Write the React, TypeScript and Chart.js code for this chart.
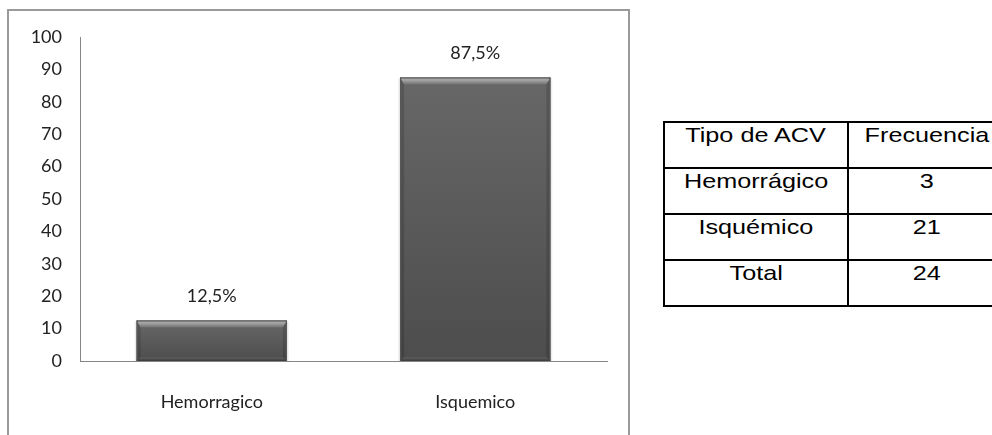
import React, { useEffect, useRef } from "react";
import { Chart, registerables } from "chart.js";

Chart.register(...registerables);

const categories = ["Hemorragico", "Isquemico"];
const percentValues = [12.5, 87.5];
const valueLabels = ["12,5%", "87,5%"];
const yTicks = [0, 10, 20, 30, 40, 50, 60, 70, 80, 90, 100];

const tableHeader = ["Tipo de ACV", "Frecuencia"];
const tableTypes = ["Hemorrágico", "Isquémico", "Total"];
const tableFreq = ["3", "21", "24"];

const FONT = "Lato, 'Open Sans', sans-serif";

const bevelPlugin = {
  id: "bevel",
  afterDatasetsDraw(chart: any) {
    const ctx = chart.ctx;
    const meta = chart.getDatasetMeta(0);
    meta.data.forEach((bar: any, i: number) => {
      const { x, y, base, width } = bar.getProps(["x", "y", "base", "width"], true);
      const l = x - width / 2;
      const r = x + width / 2;
      const t = y;
      const b = base;
      const d = 7;
      const s = 4;
      ctx.save();
      // soft shadow
      ctx.fillStyle = "rgba(0,0,0,0.06)";
      ctx.fillRect(l - 2, t + 1, width + 4, b - t - 1);
      ctx.fillStyle = "rgba(0,0,0,0.06)";
      ctx.fillRect(l - 1, t, width + 2, b - t);
      // main body gradient
      let g = ctx.createLinearGradient(0, t, 0, b);
      g.addColorStop(0, "#676767");
      g.addColorStop(1, "#4d4d4d");
      ctx.fillStyle = g;
      ctx.fillRect(l, t, width, b - t);
      // left
      ctx.fillStyle = "rgba(0,0,0,0.14)";
      ctx.beginPath();
      ctx.moveTo(l, t);
      ctx.lineTo(l + s, t + d);
      ctx.lineTo(l + s, b - s);
      ctx.lineTo(l, b);
      ctx.closePath();
      ctx.fill();
      // right
      ctx.beginPath();
      ctx.moveTo(r, t);
      ctx.lineTo(r - s, t + d);
      ctx.lineTo(r - s, b - s);
      ctx.lineTo(r, b);
      ctx.closePath();
      ctx.fill();
      // bottom
      ctx.fillStyle = "rgba(255,255,255,0.05)";
      ctx.beginPath();
      ctx.moveTo(l, b);
      ctx.lineTo(l + s, b - s);
      ctx.lineTo(r - s, b - s);
      ctx.lineTo(r, b);
      ctx.closePath();
      ctx.fill();
      ctx.fillStyle = "#3f3f3f";
      ctx.fillRect(l, b - 1.5, width, 1.5);
      // top
      g = ctx.createLinearGradient(0, t, 0, t + d);
      g.addColorStop(0, "#9e9e9e");
      g.addColorStop(0.35, "#a6a6a6");
      g.addColorStop(1, "#707070");
      ctx.fillStyle = g;
      ctx.beginPath();
      ctx.moveTo(l, t);
      ctx.lineTo(r, t);
      ctx.lineTo(r - s, t + d);
      ctx.lineTo(l + s, t + d);
      ctx.closePath();
      ctx.fill();
      ctx.fillStyle = "#5a5a5a";
      ctx.fillRect(l, t, width, 1);
      ctx.fillRect(l, t, 1, b - t);
      ctx.fillRect(r - 1, t, 1, b - t);
      // value label
      ctx.fillStyle = "#222";
      ctx.font = `18px ${FONT}`;
      ctx.textAlign = "center";
      ctx.textBaseline = "middle";
      ctx.fillText(valueLabels[i], x, t - 24);
      ctx.restore();
    });
  },
};

function BarChart() {
  const ref = useRef<HTMLCanvasElement>(null);
  useEffect(() => {
    if (!ref.current) return;
    const chart = new Chart(ref.current, {
      type: "bar",
      data: {
        labels: categories,
        datasets: [
          {
            data: percentValues,
            backgroundColor: "#5d5d5d",
            borderWidth: 0,
            categoryPercentage: 1,
            barPercentage: 0.57,
          },
        ],
      },
      options: {
        animation: false,
        responsive: false,
        devicePixelRatio: 1,
        layout: { padding: { top: 37, right: 33, left: 0, bottom: 0 } },
        plugins: { legend: { display: false }, tooltip: { enabled: false } },
        scales: {
          x: {
            grid: { display: false, drawTicks: false },
            border: { display: true, color: "#868686", width: 1 },
            ticks: { color: "#222", font: { family: FONT, size: 18 }, padding: 30 },
            afterFit: (s: any) => {
              s.height = 74;
            },
          },
          y: {
            min: 0,
            max: 100,
            grid: { display: false, drawTicks: false },
            border: { display: true, color: "#868686", width: 1 },
            afterBuildTicks: (s: any) => {
              s.ticks = yTicks.map((v) => ({ value: v }));
            },
            ticks: { color: "#222", font: { family: FONT, size: 18 }, padding: 18 },
            afterFit: (s: any) => {
              s.width = 80;
            },
          },
        },
      },
      plugins: [bevelPlugin],
    });
    return () => chart.destroy();
  }, []);
  return (
    <canvas
      ref={ref}
      width={640}
      height={435}
      style={{ position: "absolute", left: 0, top: 0, width: 640, height: 435 }}
    />
  );
}

const rowLines = [122, 168, 214, 260, 306];
const colLines = [664, 848, 1006];

function DataTable() {
  const rows = [tableHeader, ...tableTypes.map((t, i) => [t, tableFreq[i]])];
  const els: any[] = [];
  rowLines.forEach((y, i) =>
    els.push(
      <div
        key={"h" + i}
        style={{ position: "absolute", left: colLines[0] - 1, top: y - 1, width: colLines[2] - colLines[0] + 2, height: 2, background: "#000" }}
      />
    )
  );
  colLines.forEach((x, i) =>
    els.push(
      <div
        key={"v" + i}
        style={{ position: "absolute", left: x - 1, top: rowLines[0] - 1, width: 2, height: rowLines[4] - rowLines[0] + 2, background: "#000" }}
      />
    )
  );
  rows.forEach((row, ri) =>
    row.forEach((txt, ci) => {
      const cx = (colLines[ci] + colLines[ci + 1]) / 2;
      els.push(
        <div
          key={"t" + ri + "_" + ci}
          style={{
            position: "absolute",
            left: cx - 100,
            width: 200,
            top: rowLines[ri] + 1,
            textAlign: "center",
            fontFamily: "'Liberation Sans', Arial, sans-serif",
            fontSize: 21,
            lineHeight: "24px",
            color: "#000",
          }}
        >
          <span style={{ display: "inline-block", transform: "scaleX(1.2)" }}>{txt}</span>
        </div>
      );
    })
  );
  return <>{els}</>;
}

export default function App() {
  return (
    <div style={{ position: "fixed", left: 0, top: 0, width: 992, height: 435, overflow: "hidden", background: "#fff" }}>
      <div
        style={{
          position: "absolute",
          left: 7,
          top: 9,
          width: 619,
          height: 450,
          border: "2px solid #9a9a9a",
        }}
      />
      <BarChart />
      <DataTable />
    </div>
  );
}
